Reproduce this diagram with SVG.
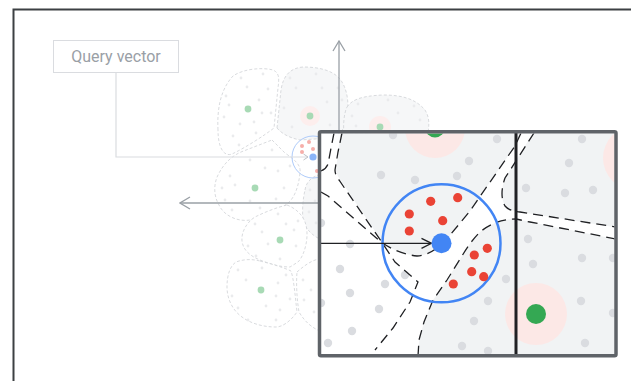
<svg xmlns="http://www.w3.org/2000/svg" width="631" height="381" viewBox="0 0 631 381">
<style>
.cell{stroke:#cfd2d5;stroke-width:0.8;stroke-dasharray:3 2;}
.cw{fill:#ffffff}
.cg{fill:#f6f7f8}
.sd{fill:#eaebed}
.sg{fill:#a8dab5}
.hs{fill:#fdeeed}
.gd{fill:#dadce0}
.rd{fill:#ea4335}
.rs{fill:#f6aea9}
.dash{fill:none;stroke:#202124;stroke-width:1.3;stroke-dasharray:10 6}
.gf{fill:#f1f3f4}
.halo{fill:#fce8e6}
.axis{stroke:#9aa0a6;stroke-width:1.3;fill:none}
.lbl{font-family:Roboto,"Liberation Sans",sans-serif;font-size:16px;fill:#9aa0a6}
</style>
<defs>
<marker id="ah" viewBox="-11 -7 12 14" refX="0" refY="0" markerWidth="12" markerHeight="14" markerUnits="userSpaceOnUse" orient="auto">
<path d="M-10,-6 L0,0 L-10,6" fill="none" stroke="#9aa0a6" stroke-width="1.3"/>
</marker>
<marker id="ahs" viewBox="-6 -4 7 8" refX="0" refY="0" markerWidth="7" markerHeight="8" markerUnits="userSpaceOnUse" orient="auto">
<path d="M-4.5,-3 L0,0 L-4.5,3" fill="none" stroke="#bdc1c6" stroke-width="1"/>
</marker>
<marker id="ahb" viewBox="-11 -6 12 12" refX="0" refY="0" markerWidth="12" markerHeight="12" markerUnits="userSpaceOnUse" orient="auto">
<path d="M-10,-5 L0,0 L-10,5" fill="none" stroke="#202124" stroke-width="1.3"/>
</marker>
<clipPath id="boxclip"><rect x="321" y="133.5" width="293.5" height="221"/></clipPath>
</defs>

<g id="frame">
<path d="M13.5,400 L13.5,9.5 L640,9.5" fill="none" stroke="#3c4043" stroke-width="2"/>
</g>

<g id="small-map">
<g id="cell-a">
<path class="cell cw" d="M218,130 C217,110 220,90 233,76 C243,69 262,67 273,70 C280,73 279,80 278,88 L274,128 C265,135 245,148 232,154 C224,157 218,148 218,130 Z"/>
<circle class="sd" cx="226" cy="96" r="1.4"/><circle class="sd" cx="241" cy="78" r="1.4"/><circle class="sd" cx="263" cy="74" r="1.4"/><circle class="sd" cx="268" cy="89" r="1.4"/><circle class="sd" cx="247" cy="87" r="1.4"/><circle class="sd" cx="229" cy="105" r="1.4"/><circle class="sd" cx="259" cy="100" r="1.4"/><circle class="sd" cx="224" cy="117" r="1.4"/><circle class="sd" cx="262" cy="113" r="1.4"/><circle class="sd" cx="271" cy="113" r="1.4"/><circle class="sd" cx="240" cy="124" r="1.4"/><circle class="sd" cx="254" cy="122" r="1.4"/><circle class="sd" cx="233" cy="136" r="1.4"/><circle class="sd" cx="256" cy="133" r="1.4"/><circle class="sd" cx="239" cy="145" r="1.4"/>
<circle class="sg" cx="248" cy="109" r="3.4"/>
</g>
<g id="cell-b">
<path class="cell cg" d="M277,128 L281,90 C283,76 290,68 303,67 C318,67 335,70 342,82 C348,92 349,105 347,118 C346,128 340,135 330,138 L300,140 C290,138 282,134 277,128 Z"/>
<circle class="sd" cx="290" cy="78" r="1.4"/><circle class="sd" cx="316" cy="74" r="1.4"/><circle class="sd" cx="338" cy="88" r="1.4"/><circle class="sd" cx="296" cy="88" r="1.4"/><circle class="sd" cx="322" cy="88" r="1.4"/><circle class="sd" cx="342" cy="100" r="1.4"/><circle class="sd" cx="284" cy="108" r="1.4"/><circle class="sd" cx="327" cy="102" r="1.4"/><circle class="sd" cx="292" cy="127" r="1.4"/><circle class="sd" cx="330" cy="125" r="1.4"/>
<circle class="hs" cx="310" cy="116" r="10"/>
<circle class="sg" cx="310" cy="116" r="3.4"/>
</g>
<g id="cell-c">
<path class="cell cg" d="M347,107 C352,100 360,96 383,95 C400,95 415,98 425,110 C430,118 429,125 428,134 L344,134 C343,125 344,113 347,107 Z"/>
<circle class="sd" cx="358" cy="104" r="1.4"/><circle class="sd" cx="388" cy="100" r="1.4"/><circle class="sd" cx="414" cy="106" r="1.4"/><circle class="sd" cx="352" cy="116" r="1.4"/><circle class="sd" cx="398" cy="113" r="1.4"/><circle class="sd" cx="420" cy="120" r="1.4"/><circle class="sd" cx="356" cy="126" r="1.4"/>
<circle class="hs" cx="380" cy="127" r="11"/>
<circle class="sg" cx="380" cy="127" r="3.4"/>
</g>
<g id="cell-d">
<path class="cell cw" d="M272,140 L285,153 C295,160 301,165 300,172 C299,185 295,198 287,204 C275,212 260,218 250,220 C238,222 224,216 219,205 C213,195 214,183 218,175 C224,163 232,156 241,152 Z"/>
<circle class="sd" cx="250" cy="160" r="1.4"/><circle class="sd" cx="272" cy="150" r="1.4"/><circle class="sd" cx="290" cy="166" r="1.4"/><circle class="sd" cx="230" cy="176" r="1.4"/><circle class="sd" cx="265" cy="168" r="1.4"/><circle class="sd" cx="278" cy="171" r="1.4"/><circle class="sd" cx="222" cy="188" r="1.4"/><circle class="sd" cx="235" cy="185" r="1.4"/><circle class="sd" cx="284" cy="188" r="1.4"/><circle class="sd" cx="225" cy="200" r="1.4"/><circle class="sd" cx="250" cy="201" r="1.4"/><circle class="sd" cx="276" cy="199" r="1.4"/><circle class="sd" cx="232" cy="210" r="1.4"/><circle class="sd" cx="260" cy="208" r="1.4"/>
<circle class="sg" cx="255" cy="188" r="3.4"/>
</g>
<g id="cell-h">
<path class="cell cg" d="M305,190 C306,182 312,176 322,174 L322,240 C312,236 305,228 303,220 C302,210 303,198 305,190 Z"/>
<circle class="sd" cx="310" cy="190" r="1.4"/><circle class="sd" cx="315" cy="201" r="1.4"/><circle class="sd" cx="309" cy="212" r="1.4"/><circle class="sd" cx="316" cy="223" r="1.4"/>
</g>
<g id="cell-e">
<path class="cell cw" d="M287,205 C295,208 302,214 305,222 C310,235 305,255 298,262 L290,267 C280,267 270,264 260,260 C250,256 243,250 242,241 C241,232 247,222 255,217 C265,212 278,207 287,205 Z"/>
<circle class="sd" cx="255" cy="224" r="1.4"/><circle class="sd" cx="278" cy="214" r="1.4"/><circle class="sd" cx="298" cy="221" r="1.4"/><circle class="sd" cx="262" cy="232" r="1.4"/><circle class="sd" cx="294" cy="230" r="1.4"/><circle class="sd" cx="248" cy="246" r="1.4"/><circle class="sd" cx="296" cy="246" r="1.4"/><circle class="sd" cx="256" cy="256" r="1.4"/><circle class="sd" cx="280" cy="259" r="1.4"/><circle class="sd" cx="286" cy="224" r="1.4"/><circle class="sd" cx="268" cy="244" r="1.4"/>
<circle class="sg" cx="280" cy="240" r="3.4"/>
</g>
<g id="cell-f">
<path class="cell cw" d="M260,261 C272,264 285,268 291,271 C294,280 295,295 297,312 C290,322 282,327 276,327 C262,327 250,323 242,317 C232,310 227,298 227,287 C227,275 230,266 236,262 C244,259 252,259 260,261 Z"/>
<circle class="sd" cx="238" cy="270" r="1.4"/><circle class="sd" cx="262" cy="268" r="1.4"/><circle class="sd" cx="286" cy="275" r="1.4"/><circle class="sd" cx="246" cy="280" r="1.4"/><circle class="sd" cx="278" cy="283" r="1.4"/><circle class="sd" cx="232" cy="296" r="1.4"/><circle class="sd" cx="276" cy="296" r="1.4"/><circle class="sd" cx="290" cy="299" r="1.4"/><circle class="sd" cx="238" cy="308" r="1.4"/><circle class="sd" cx="266" cy="306" r="1.4"/><circle class="sd" cx="280" cy="310" r="1.4"/><circle class="sd" cx="248" cy="320" r="1.4"/><circle class="sd" cx="276" cy="320" r="1.4"/>
<circle class="sg" cx="261" cy="290" r="3.4"/>
</g>
<g id="cell-g">
<path class="cell cw" d="M297,272 C305,265 312,260 322,258 L322,332 C312,328 305,322 299,312 C297,300 296,285 297,272 Z"/>
<circle class="sd" cx="303" cy="280" r="1.4"/><circle class="sd" cx="311" cy="290" r="1.4"/><circle class="sd" cx="304" cy="300" r="1.4"/><circle class="sd" cx="314" cy="312" r="1.4"/>
</g>
<g id="query-small">
<circle cx="313" cy="157" r="21" fill="none" stroke="#aecbfa" stroke-width="1"/>
<circle class="rs" cx="302" cy="146" r="2"/><circle class="rs" cx="309" cy="142" r="2"/><circle class="rs" cx="313" cy="149" r="2"/><circle class="rs" cx="302" cy="152" r="2"/><circle class="rs" cx="317" cy="171" r="2"/>
<circle cx="313" cy="157" r="3.6" fill="#8ab4f8"/>
</g>
</g>

<g id="query-label">
<rect x="53.5" y="40.5" width="125" height="32" fill="#ffffff" stroke="#dadce0" stroke-width="1"/>
<text class="lbl" x="116" y="62" text-anchor="middle">Query vector</text>
</g>

<g id="connectors">
<path d="M116,72.5 L116,157 L308,157" fill="none" stroke="#dadce0" stroke-width="1.2" marker-end="url(#ahs)"/>
<line class="axis" x1="339" y1="131" x2="339" y2="41" marker-end="url(#ah)"/>
<line class="axis" x1="320" y1="203" x2="180" y2="203" marker-end="url(#ah)"/>
</g>

<g id="magnified">
<g clip-path="url(#boxclip)">
<rect x="321" y="133" width="294" height="222" fill="#ffffff"/>
<path class="gf" d="M341,128 L338,152 L336,170 Q337,176 341,181 L383,243 Q398,254 417,256 Q432,255 446,240 L470,211 L515,146 L523,128 Z"/>
<path class="gf" d="M536,128 L505,178 Q499,195 505,206 Q509,211 520,212 L620,228 L620,128 Z"/>
<path class="gf" d="M620,240 L530,222 L516,219 Q496,219 480,232 Q470,242 462,256 L447,280 L433,300 L424,322 L419,340 L418,360 L620,360 Z"/>
<circle class="halo" cx="435" cy="128" r="30"/>
<circle class="halo" cx="536" cy="314" r="31"/>
<circle class="halo" cx="635" cy="158" r="32"/>
<g id="points">
<circle class="gd" cx="393" cy="135" r="4.2"/><circle class="gd" cx="381" cy="175" r="4.2"/><circle class="gd" cx="415" cy="180" r="4.2"/><circle class="gd" cx="457" cy="176" r="4.2"/><circle class="gd" cx="469" cy="161" r="4.2"/><circle class="gd" cx="497" cy="139" r="4.2"/>
<circle class="gd" cx="321" cy="223" r="4.2"/><circle class="gd" cx="350" cy="244" r="4.2"/><circle class="gd" cx="340" cy="269" r="4.2"/><circle class="gd" cx="350" cy="293" r="4.2"/><circle class="gd" cx="385" cy="284" r="4.2"/><circle class="gd" cx="405" cy="275" r="4.2"/><circle class="gd" cx="379" cy="309" r="4.2"/><circle class="gd" cx="352" cy="331" r="4.2"/><circle class="gd" cx="328" cy="343" r="4.2"/><circle class="gd" cx="321" cy="303" r="4.2"/>
<circle class="gd" cx="506" cy="279" r="4.2"/><circle class="gd" cx="488" cy="301" r="4.2"/><circle class="gd" cx="474" cy="321" r="4.2"/><circle class="gd" cx="462" cy="346" r="4.2"/><circle class="gd" cx="488" cy="351" r="4.2"/>
<circle class="gd" cx="582" cy="139" r="4.2"/><circle class="gd" cx="569" cy="163" r="4.2"/><circle class="gd" cx="526" cy="188" r="4.2"/><circle class="gd" cx="565" cy="193" r="4.2"/><circle class="gd" cx="593" cy="190" r="4.2"/><circle class="gd" cx="528" cy="239" r="4.2"/><circle class="gd" cx="533" cy="264" r="4.2"/><circle class="gd" cx="582" cy="258" r="4.2"/><circle class="gd" cx="613" cy="258" r="4.2"/><circle class="gd" cx="581" cy="301" r="4.2"/><circle class="gd" cx="613" cy="313" r="4.2"/><circle class="gd" cx="585" cy="343" r="4.2"/>
</g>
<circle cx="435" cy="127.5" r="10" fill="#34a853"/>
<circle cx="536" cy="314" r="10" fill="#34a853"/>
<g id="boundaries">
<path class="dash" d="M334,133 L332,143 L328,164 Q326,169 321,171"/>
<path class="dash" d="M342,133 L338,152 L335,170 Q335,175 339,180 L381,241 L395,262 L418,282 L410,302 L393,328 L375,350"/>
<path class="dash" d="M321,192 L328,196 L381,242 Q398,254 417,256 Q432,255 446,240 L470,211 L515,146 L521,133"/>
<path class="dash" d="M534,133 L505,178 Q499,195 505,206 Q509,211 520,212 L616,227"/>
<path class="dash" d="M616,239 L530,222 L516,219 Q496,219 480,232 Q470,242 462,256 L447,280 L433,300 L424,322 L419,340 L418,356"/>
</g>
</g>
<g id="query-region">
<circle cx="441.5" cy="243.3" r="59" fill="none" stroke="#4285f4" stroke-width="2.5"/>
<circle class="rd" cx="409.3" cy="214" r="4.6"/><circle class="rd" cx="430.7" cy="201.3" r="4.6"/><circle class="rd" cx="457.7" cy="197.7" r="4.6"/><circle class="rd" cx="442.7" cy="220.7" r="4.6"/><circle class="rd" cx="409.3" cy="231" r="4.6"/><circle class="rd" cx="474.3" cy="255" r="4.6"/><circle class="rd" cx="487.3" cy="248.3" r="4.6"/><circle class="rd" cx="471.7" cy="271.7" r="4.6"/><circle class="rd" cx="483.7" cy="276.7" r="4.6"/><circle class="rd" cx="453.3" cy="284" r="4.6"/>
</g>
<line x1="321" y1="243.3" x2="431.5" y2="243.3" stroke="#202124" stroke-width="1.3" marker-end="url(#ahb)"/>
<circle cx="441.5" cy="243.3" r="10" fill="#4285f4"/>
<line x1="516" y1="133" x2="516" y2="355" stroke="#202124" stroke-width="3"/>
<rect x="319.5" y="131.7" width="296.5" height="224" rx="1.5" fill="none" stroke="#5f6368" stroke-width="3.5"/>
</g>
</svg>
